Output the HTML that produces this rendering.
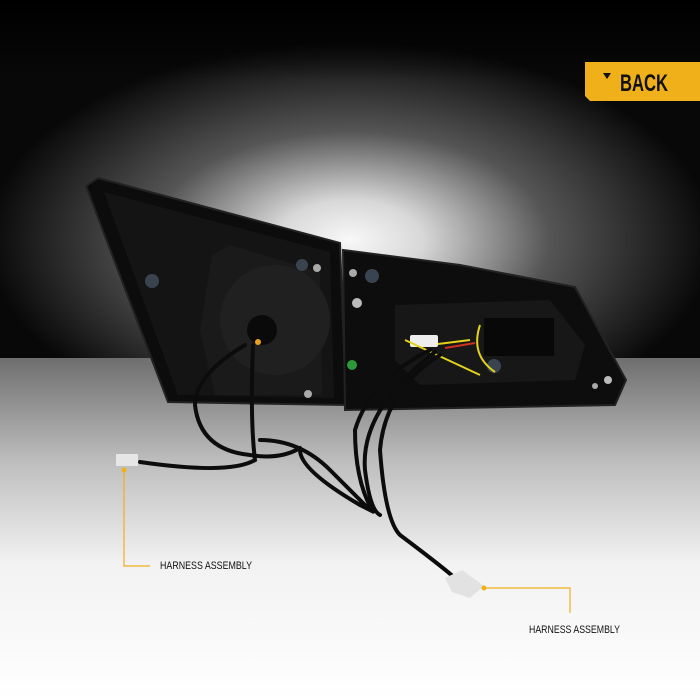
<!DOCTYPE html>
<html><head><meta charset="utf-8"><style>
html,body{margin:0;padding:0;width:700px;height:700px;overflow:hidden;background:#fff}
svg{display:block}
</style></head><body>
<svg width="700" height="700" viewBox="0 0 700 700" xmlns="http://www.w3.org/2000/svg">
<defs>
<radialGradient id="glow" cx="350" cy="240" r="330" gradientUnits="userSpaceOnUse" gradientTransform="translate(350 240) scale(1.1 0.6) translate(-350 -240)">
<stop offset="0" stop-color="#f8f8f8"/><stop offset="0.2" stop-color="#d8d8d8"/><stop offset="0.55" stop-color="#555"/><stop offset="1" stop-color="#080808"/>
</radialGradient>
<linearGradient id="floor" x1="0" y1="358" x2="0" y2="700" gradientUnits="userSpaceOnUse">
<stop offset="0" stop-color="#6e6e6e"/><stop offset="0.3" stop-color="#bdbdbd"/><stop offset="0.6" stop-color="#f2f2f2"/><stop offset="1" stop-color="#ffffff"/>
</linearGradient>
<linearGradient id="top" x1="0" y1="0" x2="0" y2="80" gradientUnits="userSpaceOnUse">
<stop offset="0" stop-color="#000"/><stop offset="1" stop-color="#000" stop-opacity="0"/>
</linearGradient>
</defs>
<rect width="700" height="358" fill="url(#glow)"/>
<rect width="700" height="80" fill="url(#top)"/>
<rect y="358" width="700" height="342" fill="url(#floor)"/>
<!-- badge -->
<path d="M585 62 H700 V101 H590 L585 96 Z" fill="#f0b019"/>
<polygon points="603,73 611,73 607,79" fill="#111"/>
<text x="620" y="91" font-family="Liberation Sans Narrow, Liberation Sans, sans-serif" font-weight="bold" font-size="24" fill="#111" textLength="48" lengthAdjust="spacingAndGlyphs">BACK</text>
<!-- lamp left -->
<path d="M86 186 L98 178 L340 243 L346 405 L168 402 Z" fill="#0c0c0c" stroke="#222" stroke-width="2"/>
<path d="M104 192 L330 252 L334 398 L178 395 Z" fill="#141414"/>
<path d="M212 255 L230 245 L320 272 L322 395 L215 395 L200 330 Z" fill="#1a1a1a"/>
<circle cx="275" cy="320" r="55" fill="#202020"/>
<circle cx="262" cy="330" r="15" fill="#0a0a0a"/>
<!-- lamp right -->
<path d="M343 250 L460 265 L575 287 L626 380 L615 405 L345 410 Z" fill="#0d0d0d" stroke="#222" stroke-width="2"/>
<path d="M395 305 L550 300 L585 345 L575 380 L420 385 L395 360 Z" fill="#171717"/>
<rect x="484" y="318" width="70" height="38" fill="#080808"/>
<circle cx="352" cy="365" r="5" fill="#2c9a3a"/>
<circle cx="302" cy="265" r="6" fill="#3a4450"/><circle cx="372" cy="276" r="7" fill="#3a4450"/>
<circle cx="152" cy="281" r="7" fill="#3a4450"/><circle cx="494" cy="366" r="7" fill="#3a4450"/>
<circle cx="317" cy="268" r="4" fill="#aaa"/><circle cx="353" cy="273" r="4" fill="#aaa"/><circle cx="357" cy="303" r="5" fill="#bbb"/>
<circle cx="308" cy="394" r="4" fill="#aaa"/><circle cx="595" cy="386" r="3" fill="#aaa"/><circle cx="608" cy="380" r="4" fill="#bbb"/>
<!-- connector -->
<rect x="410" y="335" width="28" height="12" rx="2" fill="#eee"/>
<path d="M405 340 L480 375 M438 344 L470 340 M480 325 Q470 355 495 372" stroke="#e4d21a" stroke-width="2" fill="none"/>
<path d="M445 348 L475 343" stroke="#d03020" stroke-width="2"/>
<!-- wires -->
<g fill="none" stroke="#0c0c0c" stroke-width="4" stroke-linecap="round">
<path d="M245 345 Q195 375 195 405 Q200 450 250 455 Q280 460 300 448"/>
<path d="M253 345 Q250 420 255 460 Q230 475 140 462"/>
<path d="M260 440 Q300 440 330 470 Q360 500 370 510 Q380 515 360 505 Q300 470 300 450"/>
<path d="M430 350 Q370 380 355 430 Q355 480 372 510"/>
<path d="M440 355 Q385 390 380 450 Q385 520 400 535 Q440 565 455 578"/>
<path d="M435 352 Q360 410 365 470 Q370 510 380 515"/>
</g>
<rect x="116" y="454" width="22" height="12" fill="#e6e6e6"/>
<path d="M445 578 L462 570 L484 586 L470 598 L452 592 Z" fill="#e2e2e2"/>
<circle cx="258" cy="342" r="3" fill="#e8a020"/>
<!-- callouts -->
<g stroke="#f0b019" stroke-width="1.2" fill="none">
<path d="M124 470 V566 H150"/>
<path d="M484 588 H570 V613"/>
</g>
<circle cx="124" cy="470" r="2.5" fill="#f0b019"/>
<circle cx="484" cy="588" r="2.5" fill="#f0b019"/>
<text x="160" y="569" font-family="Liberation Sans Narrow, Liberation Sans, sans-serif" font-size="11" fill="#111" textLength="92" lengthAdjust="spacingAndGlyphs">HARNESS ASSEMBLY</text>
<text x="529" y="633" font-family="Liberation Sans Narrow, Liberation Sans, sans-serif" font-size="11" fill="#111" textLength="91" lengthAdjust="spacingAndGlyphs">HARNESS ASSEMBLY</text>
</svg>
</body></html>
